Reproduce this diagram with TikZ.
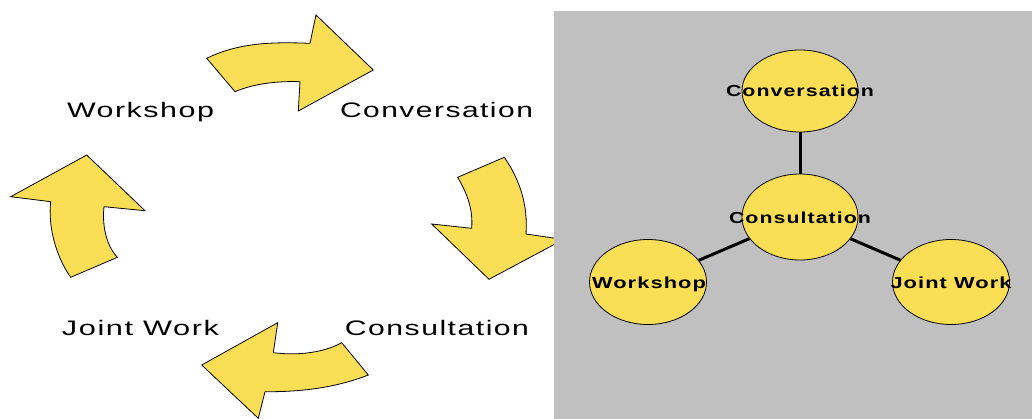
\documentclass[tikz,border=0pt]{standalone}
\usepackage{fontspec}
\setmainfont{Liberation Sans}
\newfontfamily\spacedfont[LetterSpace=5]{Liberation Sans}
\newfontfamily\spacedbold[LetterSpace=5]{Liberation Sans Bold}
\usetikzlibrary{shapes.geometric}
\definecolor{fillyel}{RGB}{250,222,85}
\definecolor{panelgray}{RGB}{192,192,192}
\tikzset{
  cyclearrow/.style={fill=fillyel, draw=black, line width=0.8pt, line join=miter},
  cyclelabel/.style={inner sep=0pt, anchor=base, font=\spacedfont\fontsize{21}{24}\selectfont},
  bubble/.style={ellipse, fill=fillyel, draw=black, line width=0.8pt, minimum width=116pt, minimum height=85pt, inner sep=0pt},
  bubblelabel/.style={inner sep=0pt, anchor=base, font=\spacedbold\fontsize{16}{18}\selectfont},
  spoke/.style={line width=3pt, black}
}
\newcommand{\fitw}[2]{\resizebox{#1pt}{\height}{#2}}
\begin{document}
\begin{tikzpicture}[x=1pt,y=-1pt]
\useasboundingbox (0,0) rectangle (1032,419);
% cycle arrows
\draw[cyclearrow] (206.7,58.3) .. controls (240,42) and (275,42) .. (310,43.3)
  -- (316,15) -- (373.3,70) -- (298.3,111) -- (300,81.7)
  .. controls (280,81) and (255,83) .. (235,91.7) -- cycle;
\draw[cyclearrow] (504.3,157.3) .. controls (520,180) and (528,205) .. (526,234)
  -- (563.5,239.5) -- (489,279.3) -- (431.7,224) -- (471.7,228.3)
  .. controls (473,210) and (468,195) .. (457.7,177.3) -- cycle;
\draw[cyclearrow] (368.3,375) .. controls (335,388) and (300,392) .. (265,391.7)
  -- (258.3,418.3) -- (201.7,365) -- (277.7,322.7) -- (273.3,352.7)
  .. controls (300,356) and (325,352) .. (341.7,342.7) -- cycle;
\draw[cyclearrow] (70.7,277.3) .. controls (55,255) and (48,225) .. (50.7,201.7)
  -- (10.7,196.7) -- (86.7,155) -- (145,210.7) -- (104,206.7)
  .. controls (102,225) and (106,245) .. (117.3,257.3) -- cycle;
% cycle labels
\node[cyclelabel] (lwork) at (140.5,118) {\fitw{147}{Workshop}};
\node[cyclelabel] (lconv) at (436.5,118) {\fitw{193}{Conversation}};
\node[cyclelabel] (ljoint) at (140.5,335) {\fitw{157}{Joint Work}};
\node[cyclelabel] (lcons) at (437,335) {\fitw{184}{Consultation}};
% right panel
\fill[panelgray] (554,11) rectangle (1032,419);
\node[bubble, minimum height=82pt] (bconv) at (800,91) {};
\node[bubble, minimum height=86pt] (bcons) at (800,217) {};
\node[bubble, minimum width=117pt] (bwork) at (648,282) {};
\node[bubble, minimum width=117pt] (bjoint) at (951,282) {};
\draw[spoke] (bconv) -- (bcons);
\draw[spoke] (bcons) -- (bwork);
\draw[spoke] (bcons) -- (bjoint);
\node[bubblelabel] (tconv) at (800,97) {\fitw{148}{Conversation}};
\node[bubblelabel] (tcons) at (800,224) {\fitw{142}{Consultation}};
\node[bubblelabel] (twork) at (649,288) {\fitw{114}{Workshop}};
\node[bubblelabel] (tjoint) at (951,288) {\fitw{121}{Joint Work}};
\end{tikzpicture}
\end{document}
